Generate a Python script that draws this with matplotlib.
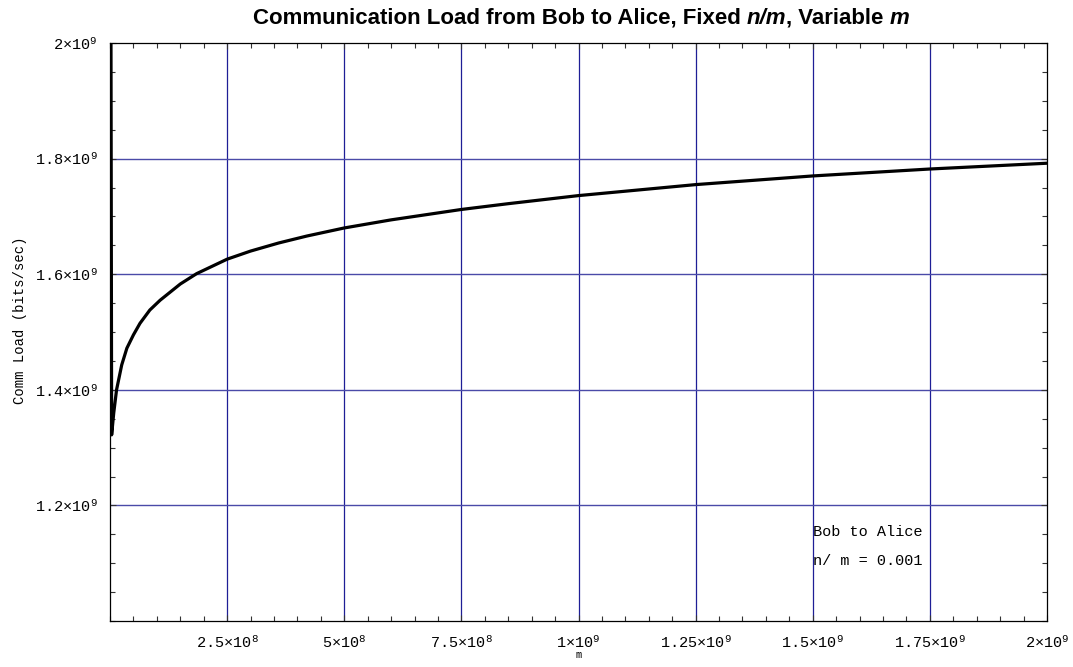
import matplotlib
matplotlib.use("Agg")
import matplotlib.pyplot as plt
from matplotlib.ticker import FixedLocator, MultipleLocator

# ---- data ----
m_vals = [1.5e6, 3.5e6, 8e6, 1.4e7, 2.5e7, 3.6e7, 5e7, 6.4e7, 8.5e7, 1.07e8,
          1.5e8, 1.85e8, 2.5e8, 3.0e8, 3.6e8, 4.2e8, 5e8, 6e8, 7.5e8, 8.5e8,
          1e9, 1.25e9, 1.5e9, 1.75e9, 2e9]
load_vals = [2.3e9, 1.322e9, 1.36e9, 1.400e9, 1.443e9, 1.472e9, 1.495e9, 1.515e9,
             1.538e9, 1.555e9, 1.583e9, 1.601e9, 1.626e9, 1.640e9, 1.654e9,
             1.666e9, 1.680e9, 1.694e9, 1.712e9, 1.722e9, 1.736e9, 1.755e9,
             1.770e9, 1.782e9, 1.792e9]

x_ticks = [2.5e8, 5e8, 7.5e8, 1e9, 1.25e9, 1.5e9, 1.75e9, 2e9]
x_tick_labels = [r"$\mathrm{2.5×10^{8}}$", r"$\mathrm{5×10^{8}}$", r"$\mathrm{7.5×10^{8}}$",
                 r"$\mathrm{1×10^{9}}$", r"$\mathrm{1.25×10^{9}}$", r"$\mathrm{1.5×10^{9}}$",
                 r"$\mathrm{1.75×10^{9}}$", r"$\mathrm{2×10^{9}}$"]
y_ticks = [1.2e9, 1.4e9, 1.6e9, 1.8e9, 2e9]
y_tick_labels = [r"$\mathrm{1.2×10^{9}}$", r"$\mathrm{1.4×10^{9}}$", r"$\mathrm{1.6×10^{9}}$",
                 r"$\mathrm{1.8×10^{9}}$", r"$\mathrm{2×10^{9}}$"]

title_parts = [("Communication Load from Bob to Alice, Fixed", "normal"), (" ", "normal"),
               ("n/m", "italic"), (", Variable", "normal"), (" ", "normal"), ("m", "italic")]
annot_lines = ["Bob to Alice", "n/ m = 0.001"]

# ---- style ----
plt.rcParams["mathtext.fontset"] = "custom"
plt.rcParams["mathtext.rm"] = "Liberation Mono"
plt.rcParams["mathtext.it"] = "Liberation Mono:italic"
plt.rcParams["mathtext.bf"] = "Liberation Mono:bold"
MONO = "Liberation Mono"
VGRID = "#1e1e96"
HGRID = "#4a4aa8"

W, H = 1073, 667
fig = plt.figure(figsize=(W / 100, H / 100), dpi=100)
ax = fig.add_axes([110 / W, (H - 621) / H, 937 / W, 578 / H])

ax.set_xlim(0, 2e9)
ax.set_ylim(1e9, 2e9)

for xv in x_ticks[:-1]:
    ax.axvline(xv, color=VGRID, lw=0.9, zorder=1)
for yv in y_ticks[:-1]:
    ax.axhline(yv, color=HGRID, lw=1.0, zorder=1)

ax.plot(m_vals, load_vals, color="black", lw=2.3, zorder=3, solid_joinstyle="round")

ax.xaxis.set_major_locator(FixedLocator(x_ticks))
ax.xaxis.set_minor_locator(MultipleLocator(5e7))
ax.yaxis.set_major_locator(FixedLocator(y_ticks))
ax.yaxis.set_minor_locator(MultipleLocator(5e7))
ax.set_xticklabels(x_tick_labels)
ax.set_yticklabels(y_tick_labels)
ax.tick_params(which="both", direction="in", top=True, right=True, width=0.8, color="#333333")
ax.tick_params(which="major", length=4.5, labelsize=11)
ax.tick_params(which="minor", length=3.5)
ax.tick_params(axis="x", which="major", pad=10)
ax.tick_params(axis="y", which="major", pad=9)
for sp in ax.spines.values():
    sp.set_linewidth(0.9)
    sp.set_color("black")

ax.set_xlabel("m", fontfamily=MONO, fontsize=7.5, labelpad=-1)
ax.set_ylabel("Comm Load (bits/sec)", fontfamily=MONO, fontsize=10, labelpad=6)
ax.yaxis.set_label_coords(-0.089, 0.52)

ax.text(1.618e9, 1.154e9, annot_lines[0], fontfamily=MONO, fontsize=11, ha="center", va="center")
ax.text(1.618e9, 1.104e9, annot_lines[1], fontfamily=MONO, fontsize=11, ha="center", va="center")

# ---- title made of pieces (bold, italic variables) ----
renderer = fig.canvas.get_renderer()
TFONT = "Liberation Sans"
TSIZE = 16

def text_width(s, style):
    if s == " ":
        a = fig.text(0, 0, "x x", fontfamily=TFONT, fontsize=TSIZE, weight="bold")
        b = fig.text(0, 0, "xx", fontfamily=TFONT, fontsize=TSIZE, weight="bold")
        w = a.get_window_extent(renderer).width - b.get_window_extent(renderer).width
        a.remove(); b.remove()
        return w
    t = fig.text(0, 0, s, fontfamily=TFONT, fontsize=TSIZE, weight="bold", fontstyle=style)
    w = t.get_window_extent(renderer).width
    t.remove()
    return w

widths = [text_width(s, st) for s, st in title_parts]
total = sum(widths)
cx = 581.0
x0 = cx - total / 2
ty = 1 - 18 / H
for (s, st), w in zip(title_parts, widths):
    if s != " ":
        fig.text(x0 / W, ty, s, fontfamily=TFONT, fontsize=TSIZE, weight="bold",
                 fontstyle=st, ha="left", va="center")
    x0 += w

fig.savefig("out.png", dpi=100)
